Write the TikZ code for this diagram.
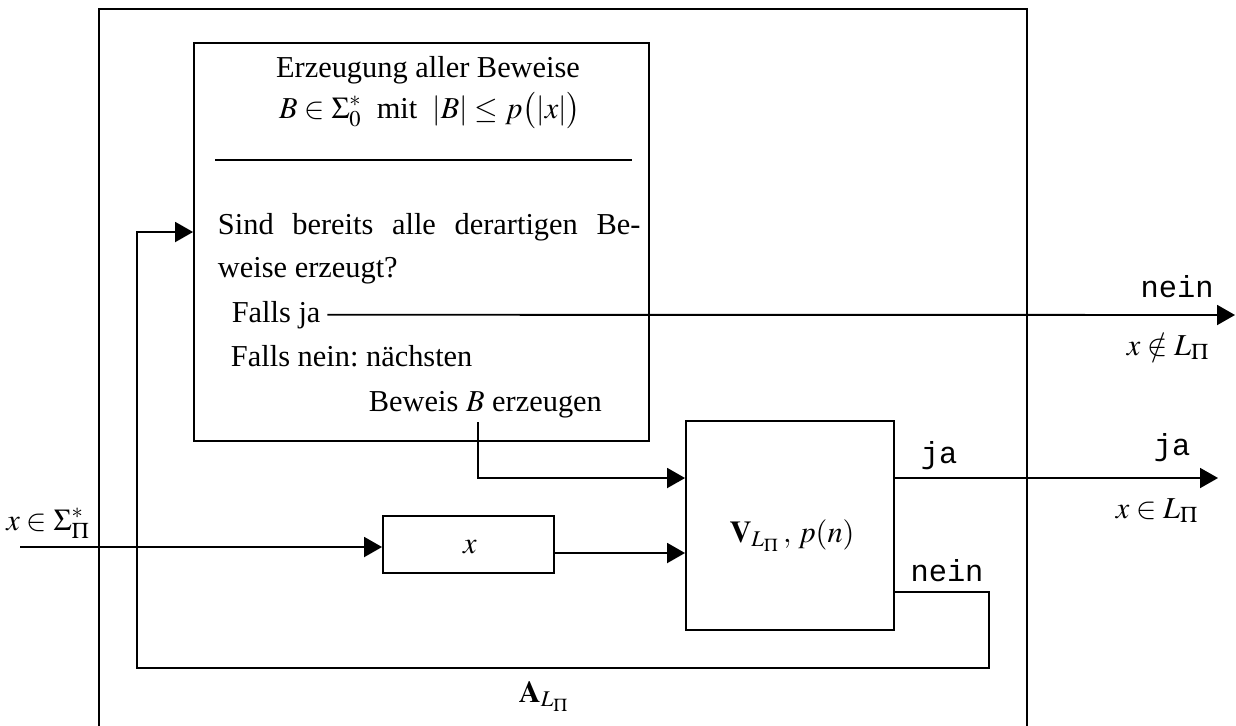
\documentclass[tikz,border=0pt]{standalone}
\usepackage{amsmath}
\usepackage{mathptmx}
\usepackage{fontspec}
\setmainfont{Liberation Serif}
\setmonofont{Liberation Mono}
\usetikzlibrary{arrows.meta}
\frenchspacing

\tikzset{
	box/.style={draw, inner sep=0pt},
	lbl/.style={anchor=base, inner sep=0pt},
	line/.style={anchor=base west, inner sep=0pt},
}

\begin{document}
\begin{tikzpicture}[x=0.02cm,y=-0.02cm,line width=1.1pt,>={Triangle[length=3.6mm,width=4mm]},font=\fontsize{17.3}{20}\selectfont]
	\useasboundingbox (0,0) rectangle (1236,725);
	\clip (0,0) rectangle (1236,725);
	% machine A, open at the bottom
	\draw (99,745) -- (99,9) -- (1027,9) -- (1027,745);
	\node (A) [lbl] at (544,702) {$\mathbf{A}_{L_\Pi}$};

	% proof generator
	\node (gen) [box, minimum width=9.1cm, minimum height=7.96cm] at (421.5,242) {};
	\node (t1) [lbl] at (428,77) {Erzeugung aller Beweise};
	\node (t2) [lbl] at (430,118) {$B\in\Sigma_0^*$\ \ mit\ \ $|B|\le p\smash{\bigl(}|x|\smash{\bigr)}$};
	\draw (215,160) -- (632,160);
	\node (q1) [line] at (217,234) {\makebox[8.45cm][s]{Sind bereits alle derartigen Be-}};
	\node (q2) [line] at (217,277) {weise erzeugt?};
	\node (fja) [anchor=base west] at (225,322) {Falls ja};
	\node (fnein) [line] at (230,366) {Falls nein: nächsten};
	\node (bew) [line] at (368,411) {Beweis $B$ erzeugen};
	\coordinate (bout) at (478,422);

	% input x
	\node (xb) [box, minimum width=3.42cm, minimum height=1.14cm] at (468.5,544.5) {};
	\node (xl) [lbl] at (470,553) {$x$};
	\coordinate (in) at (20,547);
	\node (inl) [lbl] at (48,530) {$x\in\Sigma_\Pi^*$};

	% verifier
	\node (V) [box, minimum width=4.16cm, minimum height=4.18cm] at (790,525.5) {};
	\node (Vl) [lbl] at (792,542) {$\mathbf{V}_{L_\Pi}\,,\,p(n)$};

	% outputs
	\coordinate (neinend) at (1235,315);
	\coordinate (jaend) at (1218,478);
	\coordinate (back) at (137,232);
	\coordinate (xout) at ([yshift=-0.17cm]xb.east);
	\node (ja1) [lbl] at (939,463) {\texttt{ja}};
	\node (nein1) [lbl] at (947,581) {\texttt{nein}};
	\node (ja2) [lbl] at (1172,455) {\texttt{ja}};
	\node (acc) [lbl] at (1157,518) {$x\in L_\Pi$};
	\node (nein2) [lbl] at (1177,297) {\texttt{nein}};
	\node (rej) [lbl] at (1168,355) {$x\notin L_\Pi$};

	\draw[->] (in) -- (in -| xb.west);
	\draw[->] (xout) -- (xout -| V.west);
	\draw[->] (bout) |- ([yshift=0.95cm]V.west);
	\draw[->] ([yshift=0.95cm]V.east) -- (jaend);
	\draw[->] (fja) -- (neinend);
	\draw[->] ([yshift=-1.33cm]V.east) -| (989,668) -| (back) -- (back -| gen.west);
\end{tikzpicture}
\end{document}
